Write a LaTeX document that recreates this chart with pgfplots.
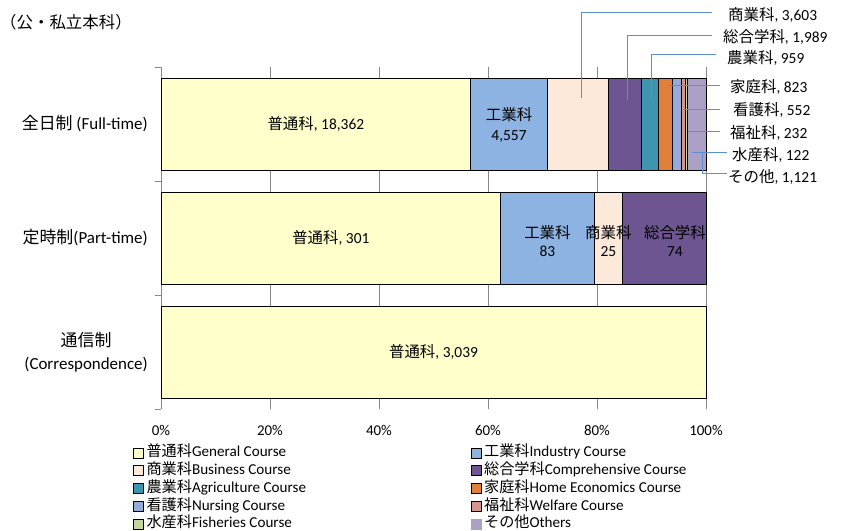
\documentclass[border=0pt]{standalone}
\usepackage{fontspec}
\setmainfont{Carlito}
\newfontfamily\jp{Noto Sans CJK JP}
\usepackage{pgfplots}
\usepackage{pgfplotstable}
\pgfplotsset{compat=1.18}
\definecolor{cGen}{HTML}{FFFFCC}
\definecolor{cInd}{HTML}{8DB3E2}
\definecolor{cBus}{HTML}{FDE9D9}
\definecolor{cComp}{HTML}{6D5591}
\definecolor{cAgr}{HTML}{3E96AE}
\definecolor{cHome}{HTML}{E0803A}
\definecolor{cNurs}{HTML}{95ABD8}
\definecolor{cWelf}{HTML}{D79490}
\definecolor{cFish}{HTML}{C3D69B}
\definecolor{cOth}{HTML}{ADA0C6}
\definecolor{cGrid}{HTML}{878787}
\definecolor{cLine}{HTML}{5B8FCF}
\tikzset{
  inlab/.style={font=\fontsize{15.5}{19}\selectfont, align=center, inner sep=0pt},
  callab/.style={font=\fontsize{15.5}{18}\selectfont, anchor=west, inner sep=0pt},
  callline/.style={draw=cLine, line width=0.75bp},
}
% cat: 2 = Full-time, 1 = Part-time, 0 = Correspondence
\pgfplotstableread{
cat total gen ind bus comp agr home nurs welf fish oth
2 32320 18362 4557 3603 1989 959 823 552 232 122 1121
1 483 301 83 25 74 0 0 0 0 0 0
0 3039 3039 0 0 0 0 0 0 0 0 0
}\data
\begin{document}
\begin{tikzpicture}
\useasboundingbox (0,0) rectangle (847bp,-531bp);
\node[anchor=west, inner sep=0pt, font=\fontsize{16.5}{18}\selectfont\jp] at (0bp,-22bp) {（公・私立本科）};
\begin{axis}[
  at={(161bp,-409bp)}, anchor=south west,
  scale only axis, width=545bp, height=342bp,
  xbar stacked, bar width=92bp,
  xmin=0, xmax=100, ymin=-0.5, ymax=2.5,
  enlargelimits=false, clip=false,
  axis x line*=bottom, axis y line*=left,
  x axis line style={draw=none},
  y axis line style={draw=cGrid, line width=0.75bp},
  xtick={0,20,40,60,80,100},
  xticklabels={0\%,20\%,40\%,60\%,80\%,100\%},
  xticklabel style={inner sep=0pt, yshift=-16bp, font=\fontsize{15}{17}\selectfont},
  xmajorgrids, major grid style={draw=cGrid, line width=0.75bp},
  ytick={0,1,2},
  yticklabels={{{\jp 通信制}\\(Correspondence)},{{\jp 定時制}(Part-time)},{{\jp 全日制} (Full-time)}},
  yticklabel style={align=center, inner sep=0pt, xshift=-13bp, font=\fontsize{17}{23}\selectfont},
  minor ytick={-0.5,0.5,1.5,2.5},
  major tick length=0pt, minor tick length=6bp, tick align=outside,
  minor tick style={draw=cGrid, line width=0.75bp},
  legend columns=2,
  legend cell align=left,
  legend style={at={(-0.0514,-0.1023)}, anchor=north west, draw=none, fill=none,
    inner sep=0pt, outer sep=0pt, row sep=0pt,
    font=\fontsize{15.2}{18}\selectfont,
    nodes={inner sep=0pt, text height=12.8bp, text depth=5bp},
    /tikz/every odd column/.append style={column sep=3bp}},
  legend image code/.code={\draw[#1] (0bp,-5bp) rectangle (10bp,5bp);},
]
\addplot[fill=cGen, draw=black, line width=0.6bp] table[x expr=\thisrow{gen}/\thisrow{total}*100, y=cat] {\data};
\addlegendentry{\makebox[324bp][l]{{\jp 普通科}General Course}}
\addplot[fill=cInd, draw=black, line width=0.6bp] table[x expr=\thisrow{ind}/\thisrow{total}*100, y=cat] {\data};
\addlegendentry{{\jp 工業科}Industry Course}
\addplot[fill=cBus, draw=black, line width=0.6bp] table[x expr=\thisrow{bus}/\thisrow{total}*100, y=cat] {\data};
\addlegendentry{\makebox[324bp][l]{{\jp 商業科}Business Course}}
\addplot[fill=cComp, draw=black, line width=0.6bp] table[x expr=\thisrow{comp}/\thisrow{total}*100, y=cat] {\data};
\addlegendentry{{\jp 総合学科}Comprehensive Course}
\addplot[fill=cAgr, draw=black, line width=0.6bp] table[x expr=\thisrow{agr}/\thisrow{total}*100, y=cat] {\data};
\addlegendentry{\makebox[324bp][l]{{\jp 農業科}Agriculture Course}}
\addplot[fill=cHome, draw=black, line width=0.6bp] table[x expr=\thisrow{home}/\thisrow{total}*100, y=cat] {\data};
\addlegendentry{{\jp 家庭科}Home Economics Course}
\addplot[fill=cNurs, draw=black, line width=0.6bp] table[x expr=\thisrow{nurs}/\thisrow{total}*100, y=cat] {\data};
\addlegendentry{\makebox[324bp][l]{{\jp 看護科}Nursing Course}}
\addplot[fill=cWelf, draw=black, line width=0.6bp] table[x expr=\thisrow{welf}/\thisrow{total}*100, y=cat] {\data};
\addlegendentry{{\jp 福祉科}Welfare Course}
\addplot[fill=cFish, draw=black, line width=0.6bp] table[x expr=\thisrow{fish}/\thisrow{total}*100, y=cat] {\data};
\addlegendentry{\makebox[324bp][l]{{\jp 水産科}Fisheries Course}}
\addplot[fill=cOth, draw=black, line width=0.6bp,
  legend image code/.code={\fill[cOth] (0bp,-5bp) rectangle (10bp,5bp);}] table[x expr=\thisrow{oth}/\thisrow{total}*100, y=cat] {\data};
\addlegendentry{{\jp その他}Others}

% anchor points in axis coordinates (used after the axis so they sit on top of the bars)
\coordinate (t1) at (axis cs:28.41,2);
\coordinate (t2) at (axis cs:63.86,1.991);
\coordinate (t3) at (axis cs:31.16,1);
\coordinate (t4) at (axis cs:70.91,0.97);
\coordinate (t5) at (axis cs:82.09,0.97);
\coordinate (t6) at (axis cs:94.3,0.97);
\coordinate (t7) at (axis cs:50,0);

\coordinate (a1) at (axis cs:77.2,2.228);  \coordinate (b1) at (axis cs:77.2,2.982);  \coordinate (c1) at (axis cs:101.1,2.982);
\coordinate (a2) at (axis cs:85.5,2.211);  \coordinate (b2) at (axis cs:85.5,2.781);  \coordinate (c2) at (axis cs:101.1,2.781);
\coordinate (a3) at (axis cs:89.9,2.211);  \coordinate (b3) at (axis cs:89.9,2.614);  \coordinate (c3) at (axis cs:101.8,2.614);
\coordinate (a4) at (axis cs:92.8,2.342);  \coordinate (c4) at (axis cs:102.6,2.342);
\coordinate (a5) at (axis cs:95.8,2.132);  \coordinate (c5) at (axis cs:102.6,2.132);
\coordinate (a6) at (axis cs:96.7,1.939);  \coordinate (c6) at (axis cs:102.6,1.939);
\coordinate (a7) at (axis cs:97.4,1.754);  \coordinate (c7) at (axis cs:103.9,1.754);
\coordinate (a8) at (axis cs:99.3,1.754);  \coordinate (b8) at (axis cs:99.3,1.570);  \coordinate (c8) at (axis cs:103.9,1.570);

\coordinate (l1) at (axis cs:104.04,2.956);
\coordinate (l2) at (axis cs:103.12,2.763);
\coordinate (l3) at (axis cs:103.85,2.579);
\coordinate (l4) at (axis cs:104.4,2.325);
\coordinate (l5) at (axis cs:104.95,2.123);
\coordinate (l6) at (axis cs:104.4,1.921);
\coordinate (l7) at (axis cs:104.77,1.728);
\coordinate (l8) at (axis cs:104.04,1.535);
\end{axis}

\node[inlab] at (t1) {{\jp 普通科}, 18,362};
\node[inlab, font=\fontsize{15.5}{20}\selectfont] at (t2) {{\jp 工業科}\\4,557};
\node[inlab] at (t3) {{\jp 普通科}, 301};
\node[inlab, font=\fontsize{15.5}{18}\selectfont] at (t4) {{\jp 工業科}\\83};
\node[inlab, font=\fontsize{15.5}{18}\selectfont] at (t5) {{\jp 商業科}\\25};
\node[inlab, font=\fontsize{15.5}{18}\selectfont] at (t6) {{\jp 総合学科}\\74};
\node[inlab] at (t7) {{\jp 普通科}, 3,039};

\draw[callline] (a1) -- (b1) -- (c1);
\draw[callline] (a2) -- (b2) -- (c2);
\draw[callline] (a3) -- (b3) -- (c3);
\draw[callline] (a4) -- (c4);
\draw[callline] (a5) -- (c5);
\draw[callline] (a6) -- (c6);
\draw[callline] (a7) -- (c7);
\draw[callline] (a8) -- (b8) -- (c8);

\node[callab] at (l1) {{\jp 商業科}, 3,603};
\node[callab] at (l2) {{\jp 総合学科}, 1,989};
\node[callab] at (l3) {{\jp 農業科}, 959};
\node[callab] at (l4) {{\jp 家庭科}, 823};
\node[callab] at (l5) {{\jp 看護科}, 552};
\node[callab] at (l6) {{\jp 福祉科}, 232};
\node[callab] at (l7) {{\jp 水産科}, 122};
\node[callab] at (l8) {{\jp その他}, 1,121};
\end{tikzpicture}
\end{document}
